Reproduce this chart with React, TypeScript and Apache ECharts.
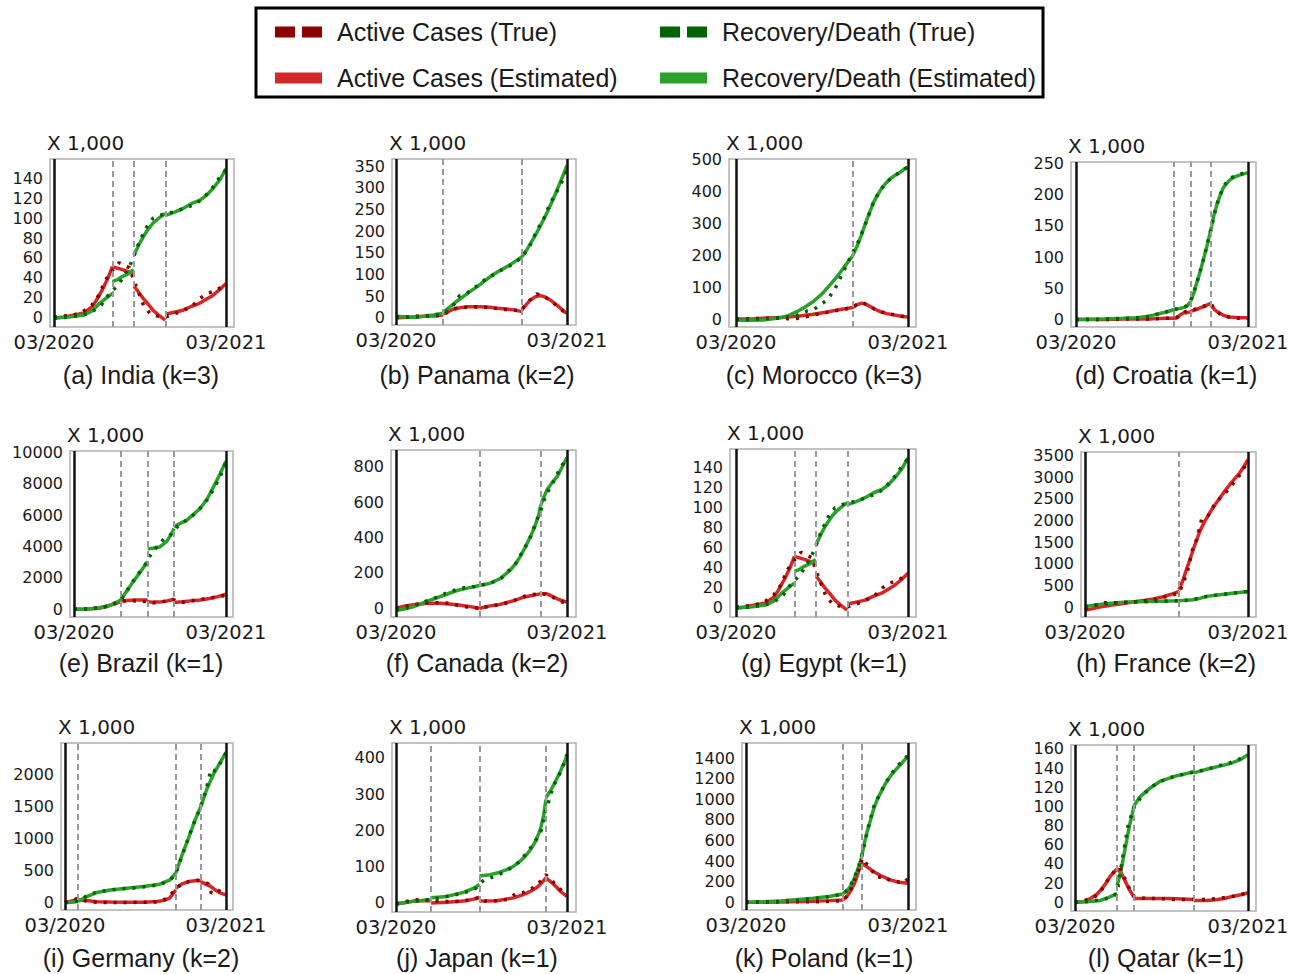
import React, { useEffect, useRef } from "react";
import * as echarts from "echarts";

type Pt = [number, number];

// ---------- axis ticks ----------
const X_TICK_DAYS = [0, 365];
const X_TICK_LABELS = ["03/2020", "03/2021"];

const TITLES = [
  "(a) India (k=3)", "(b) Panama (k=2)", "(c) Morocco (k=3)", "(d) Croatia (k=1)",
  "(e) Brazil (k=1)", "(f) Canada (k=2)", "(g) Egypt (k=1)", "(h) France (k=2)",
  "(i) Germany (k=2)", "(j) Japan (k=1)", "(k) Poland (k=1)", "(l) Qatar (k=1)",
];

const Y_TICKS_A = [0, 20, 40, 60, 80, 100, 120, 140];
const Y_TICKS_B = [0, 50, 100, 150, 200, 250, 300, 350];
const Y_TICKS_C = [0, 100, 200, 300, 400, 500];
const Y_TICKS_D = [0, 50, 100, 150, 200, 250];
const Y_TICKS_E = [0, 2000, 4000, 6000, 8000, 10000];
const Y_TICKS_F = [0, 200, 400, 600, 800];
const Y_TICKS_G = [0, 20, 40, 60, 80, 100, 120, 140];
const Y_TICKS_H = [0, 500, 1000, 1500, 2000, 2500, 3000, 3500];
const Y_TICKS_I = [0, 500, 1000, 1500, 2000];
const Y_TICKS_J = [0, 100, 200, 300, 400];
const Y_TICKS_K = [0, 200, 400, 600, 800, 1000, 1200, 1400];
const Y_TICKS_L = [0, 20, 40, 60, 80, 100, 120, 140, 160];

const Y_RANGES = [
  [-10, 160], [-17, 367], [-25, 502], [-12, 252],
  [-500, 10100], [-50, 895], [-10, 159], [-230, 3585],
  [-115, 2483], [-25, 441], [-75, 1546], [-9, 164],
];

// change points (days since 03/2020)
const BREAKS_A = [125, 170, 237];
const BREAKS_B = [100, 269];
const BREAKS_C = [247];
const BREAKS_D = [208, 243, 286];
const BREAKS_E = [113, 177, 240];
const BREAKS_F = [178, 308];
const BREAKS_G = [124, 169, 237];
const BREAKS_H = [211];
const BREAKS_I = [30, 251, 308];
const BREAKS_J = [75, 178, 320];
const BREAKS_K = [218, 260];
const BREAKS_L = [89, 125, 251];

// ---------- (a) India ----------
const INDIA_ACTIVE_EST: Pt[][] = [
  [[0, -1], [20, 0], [40, 2], [62, 4], [80, 10], [90, 17], [104, 29], [115, 40], [124, 51]],
  [[124, 51], [145, 48], [169, 44]],
  [[170, 31], [180, 25], [189, 19], [200, 13], [210, 7], [222, 2], [236, -3]],
  [[237, 3], [255, 5], [274, 7], [292, 11], [309, 14], [323, 18], [337, 22], [352, 28], [365, 34]],
];
const INDIA_RECOV_EST: Pt[][] = [
  [[0, -1], [30, 0], [62, 2], [80, 6], [97, 14], [110, 19], [124, 24]],
  [[124, 36], [135, 38], [145, 41], [158, 44], [169, 48]],
  [[170, 63], [180, 73], [189, 81], [200, 89], [210, 95], [222, 100], [236, 105]],
  [[237, 103], [255, 106], [274, 110], [292, 115], [309, 118], [323, 123], [337, 130], [352, 139], [365, 150]],
];
const INDIA_ACTIVE_TRUE: Pt[] = [
  [0, 0], [20, 1], [40, 2], [60, 5], [80, 12], [95, 22], [110, 38], [125, 48], [138, 55], [150, 52],
  [160, 50], [166, 42], [175, 30], [190, 12], [205, 3], [220, 1], [235, 0], [250, 2], [265, 5],
  [280, 8], [295, 12], [310, 19], [325, 24], [345, 27], [365, 34],
];
const INDIA_RECOV_TRUE: Pt[] = [
  [0, -1], [30, 0], [60, 2], [80, 5], [100, 12], [115, 22], [125, 27], [135, 32], [148, 41], [160, 51],
  [170, 62], [180, 75], [195, 90], [210, 100], [225, 103], [240, 105], [260, 107], [280, 111],
  [300, 114], [320, 122], [340, 133], [355, 144], [365, 149],
];

// ---------- (b) Panama ----------
const PANAMA_ACTIVE_EST: Pt[][] = [
  [[0, 0], [30, 1], [60, 3], [80, 4], [100, 6]],
  [[100, 8], [110, 13], [123, 20], [137, 23], [152, 25], [166, 25], [180, 25], [200, 24], [216, 22], [235, 20], [251, 18], [269, 14]],
  [[269, 18], [278, 30], [287, 41], [297, 48], [308, 51], [318, 48], [329, 41], [340, 32], [351, 22], [358, 15], [365, 10]],
];
const PANAMA_RECOV_EST: Pt[][] = [
  [[0, 3], [20, 2], [40, 1], [60, 3], [80, 6], [100, 10]],
  [[100, 12], [115, 25], [130, 38], [145, 50], [160, 62], [175, 73], [190, 86], [205, 98], [220, 108], [237, 118], [253, 129], [269, 141]],
  [[269, 141], [281, 160], [294, 184], [308, 212], [322, 242], [333, 268], [344, 296], [355, 325], [365, 352]],
];
const PANAMA_ACTIVE_TRUE: Pt[] = [
  [0, 0], [20, 1], [40, 3], [60, 5], [80, 4], [100, 6], [115, 16], [130, 22], [150, 24], [170, 25],
  [190, 24], [210, 22], [230, 19], [250, 18], [265, 15], [278, 32], [290, 45], [300, 55], [310, 52],
  [322, 45], [335, 35], [348, 22], [358, 15], [365, 12],
];
const PANAMA_RECOV_TRUE: Pt[] = [
  [0, 2], [25, 1], [50, 2], [75, 5], [95, 8], [105, 12], [120, 24], [135, 50], [150, 55], [165, 68],
  [180, 78], [195, 93], [210, 100], [225, 110], [240, 118], [255, 128], [269, 140], [285, 165],
  [300, 200], [315, 228], [328, 262], [340, 285], [352, 310], [365, 340],
];

// ---------- (c) Morocco ----------
const MOROCCO_ACTIVE_EST: Pt[][] = [
  [[0, 0], [40, 1], [94, 5], [130, 9], [164, 15], [190, 21], [214, 28], [232, 32], [247, 36], [257, 45],
   [267, 50], [276, 46], [285, 39], [296, 30], [306, 23], [320, 17], [335, 13], [350, 9], [365, 6]],
];
const MOROCCO_RECOV_EST: Pt[][] = [
  [[0, -4], [30, -4], [58, -3], [94, 4], [110, 10], [129, 23], [145, 36], [164, 55], [182, 78], [200, 108],
   [214, 132], [228, 160], [238, 180], [247, 197], [256, 225], [264, 255], [271, 284], [278, 313],
   [285, 340], [292, 366], [299, 386], [306, 403], [316, 423], [327, 440], [338, 451], [349, 461],
   [357, 470], [365, 477]],
];
const MOROCCO_ACTIVE_TRUE: Pt[] = [
  [0, 0], [30, 1], [60, 2], [90, 3], [110, 1], [130, 2], [150, 8], [170, 14], [190, 20], [210, 26],
  [230, 31], [247, 36], [258, 48], [268, 51], [280, 44], [295, 30], [310, 22], [325, 16], [340, 12],
  [355, 8], [365, 6],
];
const MOROCCO_RECOV_TRUE: Pt[] = [
  [0, -2], [30, -1], [60, 0], [90, 5], [110, 8], [130, 12], [150, 25], [165, 30], [180, 45], [195, 62],
  [210, 95], [225, 140], [240, 185], [250, 215], [262, 250], [275, 300], [290, 360], [305, 402],
  [320, 430], [335, 448], [350, 463], [365, 478],
];

// ---------- (d) Croatia ----------
const CROATIA_ACTIVE_EST: Pt[][] = [
  [[0, 0], [60, 0], [120, 1], [160, 1], [190, 2], [208, 2]],
  [[208, 1], [215, 3], [222, 8], [230, 11], [236, 11], [243, 12]],
  [[243, 13], [255, 16], [265, 19], [275, 22], [286, 26]],
  [[286, 23], [295, 15], [305, 10], [315, 6], [326, 4], [345, 3], [365, 3]],
];
const CROATIA_RECOV_EST: Pt[][] = [
  [[0, 0], [60, 1], [100, 2], [129, 3], [150, 5], [164, 7], [180, 10], [192, 12], [208, 16]],
  [[208, 16], [215, 17], [222, 18], [228, 19], [236, 22], [243, 28]],
  [[243, 30], [250, 42], [256, 58], [263, 75], [270, 95], [278, 118], [286, 143]],
  [[286, 143], [292, 165], [298, 181], [305, 197], [312, 210], [320, 218], [326, 223], [336, 228], [347, 231], [365, 235]],
];
const CROATIA_ACTIVE_TRUE: Pt[] = [
  [0, 0], [40, 0], [80, 0], [120, 1], [160, 1], [190, 2], [208, 2], [218, 5], [228, 12], [243, 14],
  [255, 17], [270, 21], [286, 26], [295, 16], [305, 9], [318, 5], [330, 3], [345, 2], [365, 2],
];
const CROATIA_RECOV_TRUE: Pt[] = [
  [0, 0], [40, 0], [80, 1], [120, 2], [150, 4], [175, 9], [195, 13], [208, 16], [222, 18], [236, 22],
  [243, 28], [255, 55], [270, 95], [285, 140], [298, 182], [312, 212], [326, 226], [340, 230],
  [355, 234], [365, 237],
];

// ---------- (e) Brazil ----------
const BRAZIL_ACTIVE_EST: Pt[][] = [
  [[0, 0], [30, 10], [60, 60], [78, 170], [95, 330], [113, 490]],
  [[113, 530], [130, 560], [145, 580], [160, 580], [177, 590]],
  [[177, 470], [190, 450], [205, 450], [220, 500], [235, 600], [240, 660]],
  [[240, 425], [260, 470], [280, 530], [303, 590], [325, 680], [345, 800], [365, 955]],
];
const BRAZIL_RECOV_EST: Pt[][] = [
  [[0, 0], [30, 10], [46, 40], [60, 90], [78, 170], [90, 280], [98, 380], [113, 600]],
  [[113, 650], [128, 1200], [142, 1760], [160, 2400], [177, 3040]],
  [[177, 3850], [190, 3885], [207, 3990], [222, 4310], [235, 4840], [240, 5160]],
  [[240, 5265], [255, 5480], [271, 5690], [287, 6050], [303, 6430], [320, 7050], [335, 7810], [350, 8600], [365, 9450]],
];
const BRAZIL_ACTIVE_TRUE: Pt[] = [
  [0, 0], [40, 20], [70, 120], [95, 330], [113, 500], [130, 560], [150, 520], [177, 480], [190, 400],
  [210, 470], [230, 560], [240, 600], [255, 420], [275, 500], [295, 600], [315, 660], [335, 740],
  [350, 800], [365, 900],
];
const BRAZIL_RECOV_TRUE: Pt[] = [
  [0, 0], [30, 10], [60, 80], [80, 200], [100, 420], [113, 600], [130, 1300], [150, 2100], [170, 2800],
  [181, 3350], [192, 3750], [205, 4150], [216, 4500], [230, 4700], [245, 5200], [260, 5500],
  [280, 5850], [300, 6350], [320, 7000], [340, 7900], [355, 8700], [365, 9400],
];

// ---------- (f) Canada ----------
const CANADA_ACTIVE_EST: Pt[][] = [
  [[0, 0], [20, 12], [38, 19], [66, 28], [95, 28], [130, 19], [155, 10], [178, 0]],
  [[178, 0], [201, 13], [220, 20], [237, 32], [255, 45], [272, 62], [290, 72], [308, 81]],
  [[308, 81], [322, 81], [333, 68], [344, 53], [355, 42], [365, 34]],
];
const CANADA_RECOV_EST: Pt[][] = [
  [[0, -13], [20, -3], [38, 9], [66, 38], [95, 66], [130, 100], [155, 115], [178, 128]],
  [[178, 128], [201, 141], [223, 169], [244, 216], [255, 250], [265, 292], [276, 345], [287, 405], [296, 460], [305, 530], [308, 574]],
  [[308, 574], [315, 625], [322, 668], [333, 710], [344, 744], [355, 800], [365, 853]],
];
const CANADA_ACTIVE_TRUE: Pt[] = [
  [0, 0], [30, 15], [60, 30], [90, 30], [115, 28], [140, 10], [160, 5], [178, -2], [200, 12], [220, 20],
  [245, 35], [265, 60], [285, 75], [300, 80], [315, 80], [330, 68], [345, 48], [355, 35], [365, 30],
];
const CANADA_RECOV_TRUE: Pt[] = [
  [0, -10], [30, 5], [60, 35], [85, 60], [110, 88], [130, 105], [150, 118], [170, 122], [190, 135],
  [210, 150], [225, 170], [240, 210], [255, 250], [270, 320], [285, 390], [298, 480], [310, 560],
  [320, 640], [335, 710], [350, 790], [365, 850],
];

// ---------- (g) Egypt (same trajectory as drawn for India) ----------
const EGYPT_ACTIVE_EST: Pt[][] = INDIA_ACTIVE_EST;
const EGYPT_RECOV_EST: Pt[][] = INDIA_RECOV_EST;
const EGYPT_ACTIVE_TRUE: Pt[] = INDIA_ACTIVE_TRUE;
const EGYPT_RECOV_TRUE: Pt[] = INDIA_RECOV_TRUE;

// ---------- (h) France ----------
const FRANCE_ACTIVE_EST: Pt[][] = [
  [[0, -77], [20, -30], [41, 15], [60, 45], [78, 69], [100, 105], [115, 131], [135, 158], [153, 185], [170, 225], [182, 262], [196, 305], [211, 362]],
  [[211, 400], [220, 640], [227, 863], [235, 1100], [242, 1326], [250, 1550], [257, 1750], [268, 1980], [279, 2174], [290, 2350], [302, 2521], [313, 2680], [324, 2829], [335, 2965], [346, 3099], [356, 3250], [365, 3407]],
];
const FRANCE_RECOV_EST: Pt[][] = [
  [[0, 15], [41, 69], [78, 108], [115, 125], [153, 131], [182, 140], [211, 146]],
  [[211, 146], [242, 170], [257, 200], [272, 247], [302, 285], [334, 324], [365, 362]],
];
const FRANCE_ACTIVE_TRUE: Pt[] = [
  [0, -50], [30, 70], [45, 100], [70, 100], [100, 110], [130, 140], [160, 185], [190, 260], [211, 330],
  [220, 560], [230, 850], [240, 1300], [250, 1557], [261, 2020], [275, 2100], [290, 2370], [305, 2550],
  [320, 2700], [335, 2900], [350, 3100], [365, 3380],
];
const FRANCE_RECOV_TRUE: Pt[] = [
  [0, 10], [40, 65], [80, 105], [120, 125], [160, 132], [211, 145], [240, 165], [270, 240], [300, 285],
  [330, 318], [365, 360],
];

// ---------- (i) Germany ----------
const GERMANY_ACTIVE_EST: Pt[][] = [
  [[0, 0], [15, 25], [30, 52]],
  [[30, 42], [49, 31], [72, 15], [102, 8], [140, 5], [178, 6], [209, 16], [225, 35], [238, 75], [251, 197]],
  [[251, 223], [264, 286], [280, 327], [295, 340], [308, 343]],
  [[308, 327], [321, 280], [331, 249], [340, 200], [350, 156], [358, 135], [365, 119]],
];
const GERMANY_RECOV_EST: Pt[][] = [
  [[0, 0], [15, 5], [30, 16]],
  [[30, 20], [49, 94], [72, 156], [102, 197], [140, 223], [178, 249], [215, 286], [238, 353], [251, 457]],
  [[251, 457], [264, 717], [280, 1003], [295, 1288], [308, 1496]],
  [[308, 1496], [321, 1756], [336, 1990], [351, 2171], [365, 2338]],
];
const GERMANY_ACTIVE_TRUE: Pt[] = [
  [0, 0], [15, 30], [30, 70], [45, 30], [60, 10], [90, 0], [130, 0], [170, 5], [210, 10], [230, 60],
  [250, 200], [265, 300], [285, 330], [300, 350], [315, 320], [325, 290], [332, 145], [345, 200],
  [358, 150], [365, 120],
];
const GERMANY_RECOV_TRUE: Pt[] = [
  [0, 0], [20, 10], [35, 40], [50, 110], [70, 160], [100, 195], [140, 220], [180, 245], [215, 280],
  [240, 360], [255, 520], [270, 820], [290, 1200], [305, 1450], [320, 1750], [331, 2078], [340, 2050],
  [352, 2170], [365, 2330],
];

// ---------- (j) Japan ----------
const JAPAN_ACTIVE_EST: Pt[][] = [
  [[0, -3], [20, 1], [38, 5], [55, 6], [75, 7]],
  [[75, 0], [109, 2], [144, 5], [165, 10], [178, 16]],
  [[178, 5], [215, 6], [251, 14], [270, 22], [287, 32], [300, 42], [308, 51], [320, 69]],
  [[320, 69], [337, 51], [351, 32], [365, 18]],
];
const JAPAN_RECOV_EST: Pt[][] = [
  [[0, -3], [20, 1], [38, 5], [55, 7], [75, 9]],
  [[75, 14], [109, 18], [144, 29], [165, 40], [178, 51]],
  [[178, 74], [201, 78], [220, 84], [237, 92], [252, 102], [265, 115], [277, 130], [287, 147], [298, 170], [308, 202], [315, 240], [320, 285]],
  [[320, 290], [330, 310], [337, 326], [351, 363], [365, 405]],
];
const JAPAN_ACTIVE_TRUE: Pt[] = [
  [0, -2], [25, 5], [50, 10], [75, 6], [95, 5], [120, 3], [145, 6], [165, 10], [178, 15], [190, 5],
  [215, 6], [240, 10], [255, 25], [270, 28], [290, 40], [305, 55], [320, 78], [330, 65], [345, 45],
  [358, 28], [365, 20],
];
const JAPAN_RECOV_TRUE: Pt[] = [
  [0, -2], [25, 3], [50, 6], [75, 10], [100, 16], [125, 22], [150, 30], [170, 40], [180, 55], [190, 65],
  [210, 72], [230, 85], [250, 100], [265, 115], [280, 140], [295, 165], [310, 200], [318, 250],
  [325, 275], [335, 320], [345, 345], [355, 370], [365, 410],
];

// ---------- (k) Poland ----------
const POLAND_ACTIVE_EST: Pt[][] = [
  [[0, 0], [77, 3], [152, 10], [190, 16], [218, 23]],
  [[218, 23], [228, 60], [235, 104], [243, 170], [250, 250], [255, 320], [260, 395]],
  [[260, 379], [272, 347], [287, 298], [303, 260], [325, 217], [345, 195], [365, 185]],
];
const POLAND_RECOV_EST: Pt[][] = [
  [[0, -3], [77, 13], [152, 39], [190, 58], [218, 81]],
  [[218, 81], [228, 115], [235, 152], [243, 220], [250, 298], [260, 428]],
  [[260, 428], [266, 560], [272, 671], [280, 790], [287, 898], [295, 990], [303, 1060], [314, 1150], [325, 1222], [337, 1285], [348, 1335], [357, 1380], [365, 1416]],
];
const POLAND_ACTIVE_TRUE: Pt[] = [
  [0, 0], [50, 3], [100, 5], [150, 5], [190, 8], [218, 15], [232, 80], [245, 220], [255, 330], [262, 430],
  [270, 380], [282, 320], [295, 240], [310, 250], [325, 210], [340, 200], [355, 185], [365, 230],
];
const POLAND_RECOV_TRUE: Pt[] = [
  [0, 0], [50, 5], [100, 15], [150, 35], [190, 55], [218, 80], [232, 130], [245, 250], [255, 360],
  [265, 520], [275, 720], [287, 920], [300, 1040], [315, 1160], [330, 1260], [345, 1340], [358, 1390],
  [365, 1430],
];

// ---------- (l) Qatar ----------
const QATAR_ACTIVE_EST: Pt[][] = [
  [[0, 0], [20, 1], [32, 4], [45, 8], [53, 12], [64, 19], [74, 27], [89, 35]],
  [[89, 35], [97, 31], [105, 23], [115, 13], [125, 5]],
  [[125, 4], [160, 4], [200, 4], [251, 3]],
  [[251, 2], [280, 2], [300, 3], [315, 4], [330, 6], [350, 8], [365, 10]],
];
const QATAR_RECOV_EST: Pt[][] = [
  [[0, 0], [30, 1], [53, 2], [70, 5], [89, 9]],
  [[89, 18], [97, 33], [105, 54], [115, 80], [125, 101]],
  [[125, 101], [137, 110], [158, 119], [179, 126], [215, 132], [251, 136]],
  [[251, 135], [280, 139], [305, 142], [330, 145], [350, 149], [365, 154]],
];
const QATAR_ACTIVE_TRUE: Pt[] = [
  [0, 0], [20, 2], [40, 5], [55, 12], [70, 24], [85, 34], [95, 36], [105, 25], [115, 14], [125, 6],
  [150, 4], [180, 4], [210, 3], [240, 3], [270, 3], [300, 4], [330, 6], [350, 8], [365, 10],
];
const QATAR_RECOV_TRUE: Pt[] = [
  [0, 0], [30, 1], [60, 3], [80, 6], [89, 10], [100, 45], [112, 80], [125, 100], [140, 110], [160, 120],
  [180, 126], [200, 130], [225, 133], [250, 136], [275, 138], [300, 142], [325, 145], [350, 150], [365, 153],
];

// ---------- layout (pixels): frame left, top, right, bottom, first-day x, last-day x ----------
const FRAMES = [
  [50, 159, 234, 327, 54, 226],
  [392, 159, 576, 325, 396, 567],
  [729, 159, 916, 327, 736, 908],
  [1071, 162, 1256, 327, 1076, 1248],
  [70, 451, 233, 617, 74, 226],
  [391, 450, 576, 617, 396, 567],
  [730, 449, 916, 617, 736, 908],
  [1081, 452, 1256, 617, 1085, 1248],
  [61, 743, 233, 910, 65, 226],
  [392, 743, 576, 912, 396, 567],
  [742, 743, 916, 910, 746, 908],
  [1071, 745, 1256, 911, 1075, 1248],
];
const CAPTION_X = [141, 477, 824, 1166];
const CAPTION_Y = [375, 663, 958];

const PANELS = [
  { ticks: Y_TICKS_A, breaks: BREAKS_A, ae: INDIA_ACTIVE_EST, re: INDIA_RECOV_EST, at: INDIA_ACTIVE_TRUE, rt: INDIA_RECOV_TRUE },
  { ticks: Y_TICKS_B, breaks: BREAKS_B, ae: PANAMA_ACTIVE_EST, re: PANAMA_RECOV_EST, at: PANAMA_ACTIVE_TRUE, rt: PANAMA_RECOV_TRUE },
  { ticks: Y_TICKS_C, breaks: BREAKS_C, ae: MOROCCO_ACTIVE_EST, re: MOROCCO_RECOV_EST, at: MOROCCO_ACTIVE_TRUE, rt: MOROCCO_RECOV_TRUE },
  { ticks: Y_TICKS_D, breaks: BREAKS_D, ae: CROATIA_ACTIVE_EST, re: CROATIA_RECOV_EST, at: CROATIA_ACTIVE_TRUE, rt: CROATIA_RECOV_TRUE },
  { ticks: Y_TICKS_E, breaks: BREAKS_E, ae: BRAZIL_ACTIVE_EST, re: BRAZIL_RECOV_EST, at: BRAZIL_ACTIVE_TRUE, rt: BRAZIL_RECOV_TRUE },
  { ticks: Y_TICKS_F, breaks: BREAKS_F, ae: CANADA_ACTIVE_EST, re: CANADA_RECOV_EST, at: CANADA_ACTIVE_TRUE, rt: CANADA_RECOV_TRUE },
  { ticks: Y_TICKS_G, breaks: BREAKS_G, ae: EGYPT_ACTIVE_EST, re: EGYPT_RECOV_EST, at: EGYPT_ACTIVE_TRUE, rt: EGYPT_RECOV_TRUE },
  { ticks: Y_TICKS_H, breaks: BREAKS_H, ae: FRANCE_ACTIVE_EST, re: FRANCE_RECOV_EST, at: FRANCE_ACTIVE_TRUE, rt: FRANCE_RECOV_TRUE },
  { ticks: Y_TICKS_I, breaks: BREAKS_I, ae: GERMANY_ACTIVE_EST, re: GERMANY_RECOV_EST, at: GERMANY_ACTIVE_TRUE, rt: GERMANY_RECOV_TRUE },
  { ticks: Y_TICKS_J, breaks: BREAKS_J, ae: JAPAN_ACTIVE_EST, re: JAPAN_RECOV_EST, at: JAPAN_ACTIVE_TRUE, rt: JAPAN_RECOV_TRUE },
  { ticks: Y_TICKS_K, breaks: BREAKS_K, ae: POLAND_ACTIVE_EST, re: POLAND_RECOV_EST, at: POLAND_ACTIVE_TRUE, rt: POLAND_RECOV_TRUE },
  { ticks: Y_TICKS_L, breaks: BREAKS_L, ae: QATAR_ACTIVE_EST, re: QATAR_RECOV_EST, at: QATAR_ACTIVE_TRUE, rt: QATAR_RECOV_TRUE },
];

const NAME_AT = "Active Cases (True)";
const NAME_RT = "Recovery/Death (True)";
const NAME_AE = "Active Cases (Estimated)";
const NAME_RE = "Recovery/Death (Estimated)";

const C_AT = "#8b0000";
const C_RT = "#006400";
const C_AE = "#d62728";
const C_RE = "#2ca02c";

const TICK_FONT = "'DejaVu Sans', sans-serif";
const TEXT_FONT = "'Liberation Sans', Arial, sans-serif";
const DASH_ICON = "path://M0,0H20V11H0ZM27,0H47V11H27Z";

const joinSegments = (segs: Pt[][]) =>
  segs.flatMap((s, i) => (i === 0 ? s : [[s[0][0], null], ...s]));

function buildOption() {
  const grid: any[] = [];
  const xAxis: any[] = [];
  const yAxis: any[] = [];
  const series: any[] = [];
  const graphic: any[] = [];
  const lastDay = X_TICK_DAYS[X_TICK_DAYS.length - 1];

  PANELS.forEach((p, i) => {
    const [fl, ft, fr, fb, bl, br] = FRAMES[i];
    const span = br - bl;
    const xmin = -((bl - fl) * lastDay) / span;
    const xmax = lastDay + ((fr - br) * lastDay) / span;
    grid.push({
      left: fl, top: ft, width: fr - fl, height: fb - ft,
      show: true, borderColor: "#b0b0b0", borderWidth: 1.5, backgroundColor: "transparent",
    });
    xAxis.push({
      type: "value", gridIndex: i, min: xmin, max: xmax,
      axisLine: { show: false }, axisTick: { show: false }, splitLine: { show: false },
      axisLabel: {
        customValues: X_TICK_DAYS,
        formatter: (v: number) => X_TICK_LABELS[X_TICK_DAYS.indexOf(v)] ?? "",
        fontSize: 19.5, fontFamily: TICK_FONT, color: "#1a1a1a", margin: 5,
      },
    });
    yAxis.push({
      type: "value", gridIndex: i, min: Y_RANGES[i][0], max: Y_RANGES[i][1],
      axisLine: { show: false }, axisTick: { show: false }, splitLine: { show: false },
      axisLabel: {
        customValues: p.ticks,
        formatter: (v: number) => String(v),
        fontSize: 16, fontFamily: TICK_FONT, color: "#1a1a1a", margin: 7,
      },
    });
    const common = { xAxisIndex: i, yAxisIndex: i, showSymbol: false, symbol: "none", silent: true };
    // dashed change-point lines
    series.push({
      ...common, type: "line", name: "breaks", data: [], z: 1,
      markLine: {
        silent: true, symbol: ["none", "none"], label: { show: false },
        lineStyle: { color: "#9a9a9a", width: 2, type: [6, 4] },
        data: p.breaks.map((b) => ({ xAxis: b })),
      },
    });
    series.push({
      ...common, type: "line", name: NAME_AE, color: C_AE, z: 2,
      lineStyle: { width: 3.5, color: C_AE }, data: joinSegments(p.ae),
    });
    series.push({
      ...common, type: "line", name: NAME_RE, color: C_RE, z: 2,
      lineStyle: { width: 3.5, color: C_RE }, data: joinSegments(p.re),
    });
    series.push({
      ...common, type: "line", name: NAME_AT, color: C_AT, z: 3,
      lineStyle: { width: 3.5, color: C_AT, type: [3, 7], cap: "butt" }, data: p.at,
    });
    series.push({
      ...common, type: "line", name: NAME_RT, color: C_RT, z: 3,
      lineStyle: { width: 3.5, color: C_RT, type: [3, 7], cap: "butt" }, data: p.rt,
    });
    // solid black bounds at 03/2020 and 03/2021
    series.push({
      ...common, type: "line", name: "bounds", data: [], z: 5,
      markLine: {
        silent: true, symbol: ["none", "none"], label: { show: false },
        lineStyle: { color: "#111", width: 2.5, type: "solid" },
        data: X_TICK_DAYS.map((d) => ({ xAxis: d })),
      },
    });
    graphic.push({
      type: "text", left: fl - 3, top: ft - 26, silent: true,
      style: { text: "X 1,000", font: `20px ${TICK_FONT}`, fill: "#1a1a1a" },
    });
    graphic.push({
      type: "text", x: CAPTION_X[i % 4], y: CAPTION_Y[Math.floor(i / 4)], silent: true,
      style: {
        text: TITLES[i], font: `25px ${TEXT_FONT}`, fill: "#1a1a1a",
        align: "center", verticalAlign: "middle",
      },
    });
  });

  graphic.push({
    type: "rect", silent: true, z: 10,
    shape: { x: 256, y: 8, width: 787, height: 89 },
    style: { fill: "none", stroke: "#000", lineWidth: 3 },
  });

  const legendBase = {
    padding: 0, itemWidth: 47, itemHeight: 11, selectedMode: false,
    itemStyle: { borderWidth: 0 },
    textStyle: { fontSize: 25, fontFamily: TEXT_FONT, color: "#1a1a1a", padding: [0, 0, 0, 10], lineHeight: 28 },
  };
  const legend = [
    { ...legendBase, left: 275, top: 18, icon: DASH_ICON, data: [NAME_AT] },
    { ...legendBase, left: 660, top: 18, icon: DASH_ICON, data: [NAME_RT] },
    { ...legendBase, left: 275, top: 64, icon: "rect", data: [NAME_AE] },
    { ...legendBase, left: 660, top: 64, icon: "rect", data: [NAME_RE] },
  ];

  return { animation: false, backgroundColor: "#fff", grid, xAxis, yAxis, series, graphic, legend };
}

export default function App() {
  const ref = useRef<HTMLDivElement>(null);
  useEffect(() => {
    document.body.style.margin = "0";
    if (!ref.current) return;
    const chart = echarts.init(ref.current, undefined, { renderer: "svg" });
    chart.setOption(buildOption() as any);
    return () => chart.dispose();
  }, []);
  return <div ref={ref} style={{ width: 1302, height: 974 }} />;
}
